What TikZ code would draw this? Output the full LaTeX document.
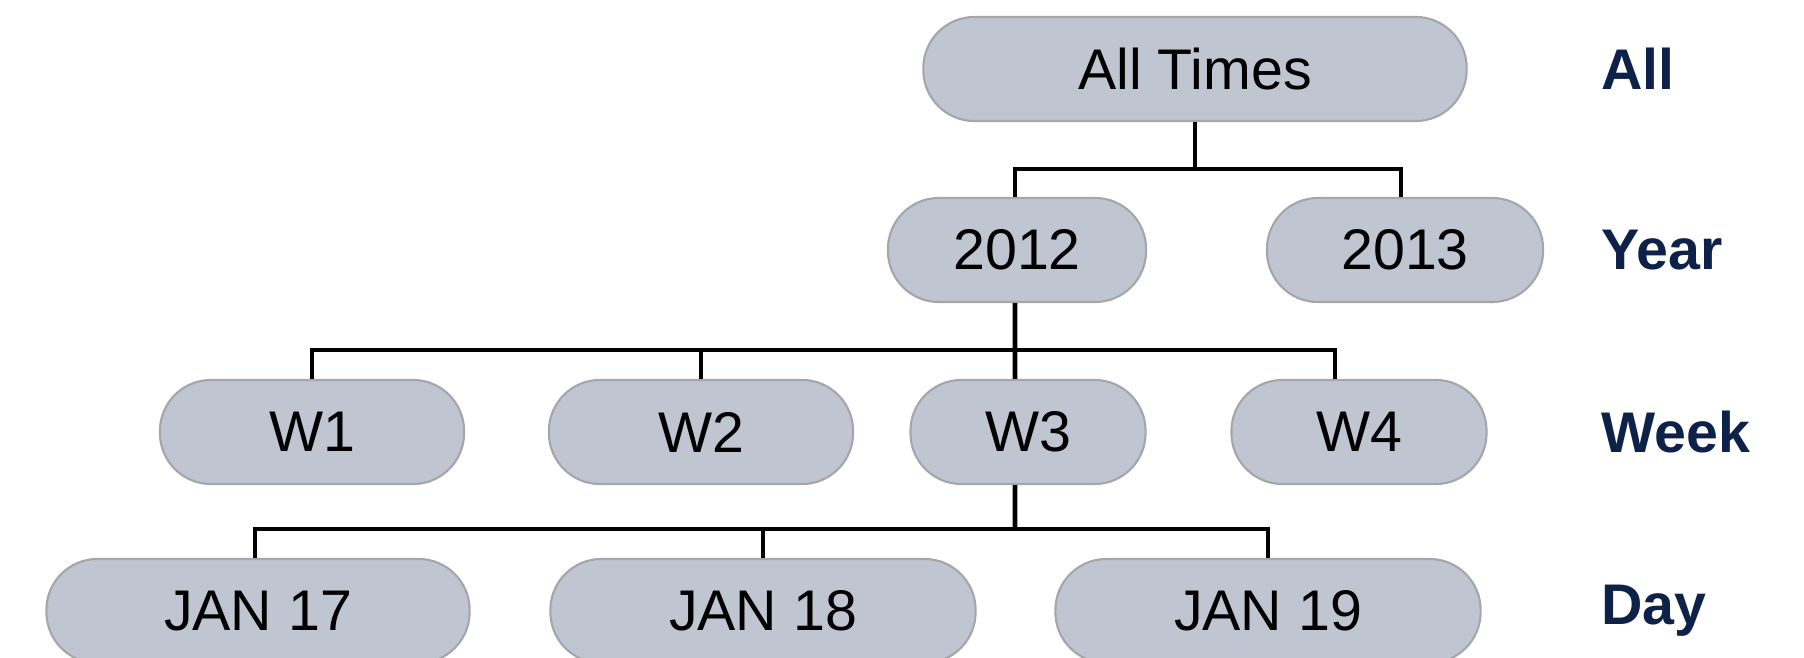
\documentclass[tikz,border=0pt]{standalone}
\usepackage{fontspec}
\setmainfont{Liberation Sans}
\usepackage{tikz}
\usetikzlibrary{positioning}
\usepackage{xcolor}
\definecolor{pillfill}{HTML}{C0C6D1}
\definecolor{pillline}{HTML}{A4A6AB}
\definecolor{levelnavy}{HTML}{0E2148}

\begin{document}
\begin{tikzpicture}[x=0.01cm,y=-0.01cm,
 pill/.style={draw=pillline, fill=pillfill, line width=0.6pt, rounded corners=14.5pt, minimum height=1.04cm, inner sep=0pt, font=\fontsize{16.3}{19}\selectfont},
 level/.style={anchor=west, text=levelnavy, font=\fontsize{16.3}{19}\selectfont\bfseries},
 link/.style={black, line width=1.3pt}]

\useasboundingbox (0,0) rectangle (1804,658);

% tree
\node[pill, minimum width=5.43cm] (all) at (1195,69) {All Times};

\node[pill, minimum width=2.58cm] (y2012) at (1017,250) {2012};
\node[pill, minimum width=2.76cm] (y2013) at (1405,250) {2013};

\node[pill, minimum width=3.04cm] (w1) at (312,432) {W1};
\node[pill, minimum width=3.04cm] (w2) at (701,432) {W2};
\node[pill, minimum width=2.35cm] (w3) at (1028,432) {W3};
\node[pill, minimum width=2.55cm] (w4) at (1359,432) {W4};

\node[pill, minimum width=4.23cm] (jan17) at (258,611) {JAN 17};
\node[pill, minimum width=4.25cm] (jan18) at (763,611) {JAN 18};
\node[pill, minimum width=4.25cm] (jan19) at (1268,611) {JAN 19};

% levels
\node[level] (lall) at (1589,69) {All};
\node[level] (lyear) at (1589,250) {Year};
\node[level] (lweek) at (1589,432) {Week};
\node[level] (lday) at (1589,611) {Day};

% connectors
\coordinate (bar1) at (1195,169);
\coordinate (bar2) at (1015,350);
\coordinate (bar3) at (1015,529);

\draw[link] (all.south) -- (bar1);
\draw[link] ([xshift=-0.02cm]y2012.north) |- (bar1) -| ([xshift=-0.04cm]y2013.north);

\draw[link] ([xshift=-0.02cm]y2012.south) -- (bar2);
\draw[link] (w1.north) |- (bar2) -| ([xshift=-0.24cm]w4.north);
\draw[link] (w2.north) -- (w2.north |- bar2);
\draw[link] ([xshift=-0.13cm]w3.north) -- (bar2);

\draw[link] ([xshift=-0.13cm]w3.south) -- (bar3);
\draw[link] ([xshift=-0.03cm]jan17.north) |- (bar3) -| (jan19.north);
\draw[link] (jan18.north) -- (jan18.north |- bar3);

\end{tikzpicture}
\end{document}
